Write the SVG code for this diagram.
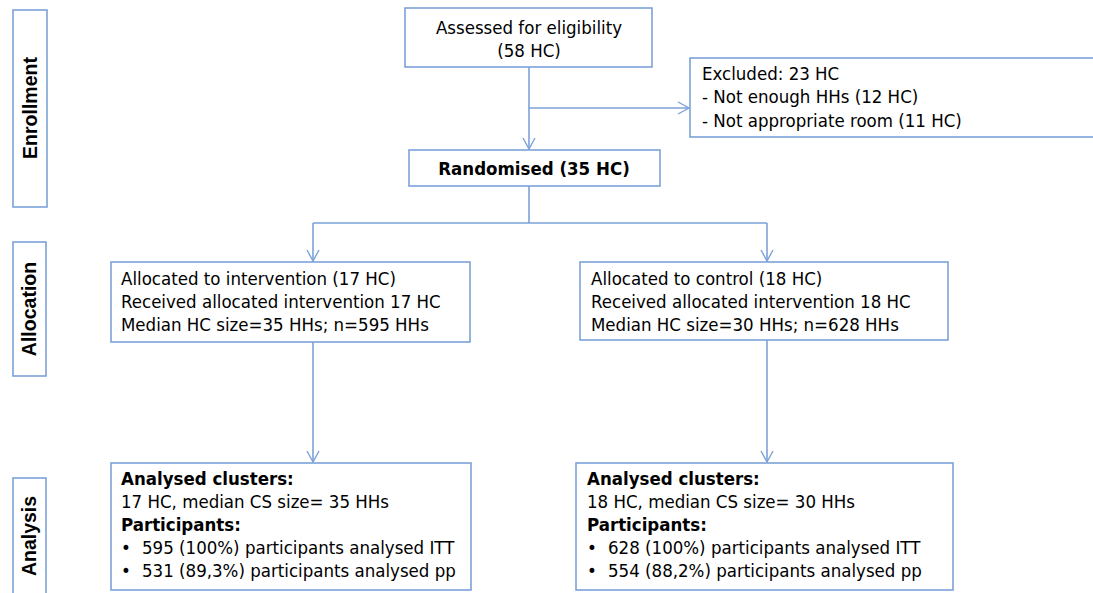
<svg xmlns="http://www.w3.org/2000/svg" width="1093" height="593" viewBox="0 0 1093 593">
<defs>
<style>
.box{fill:#fff;stroke:#7ca2d9;stroke-width:1.6}
.ln{fill:none;stroke:#7ca2d9;stroke-width:1.6}
.t{font-family:"DejaVu Sans Condensed","DejaVu Sans",Verdana,sans-serif;font-stretch:condensed;font-size:18.5px;fill:#000}
.b{font-weight:bold}
.side{font-family:"Liberation Sans",Arial,sans-serif;font-size:19.5px;font-weight:bold;fill:#000}
</style>
<marker id="arr" markerWidth="14" markerHeight="14" refX="12" refY="7" orient="auto" markerUnits="userSpaceOnUse">
<path d="M1,1 L12,7 L1,13" fill="none" stroke="#7ca2d9" stroke-width="1.4"/>
</marker>
</defs>
<rect width="1093" height="593" fill="#fff"/>

<g id="connectors">
<path class="ln" d="M529,67 V149" marker-end="url(#arr)"/>
<path class="ln" d="M529,108 H689" marker-end="url(#arr)"/>
<path class="ln" d="M529,186 V223 M313,223 H767"/>
<path class="ln" d="M313,223 V261" marker-end="url(#arr)"/>
<path class="ln" d="M767,223 V261" marker-end="url(#arr)"/>
<path class="ln" d="M313,342 V462" marker-end="url(#arr)"/>
<path class="ln" d="M767,340 V462" marker-end="url(#arr)"/>
</g>

<g id="label-enrollment">
<rect class="box" x="13" y="10" width="34" height="197"/>
<text class="side" transform="translate(37,108) rotate(-90)" text-anchor="middle">Enrollment</text>
</g>
<g id="label-allocation">
<rect class="box" x="13" y="242" width="33" height="134"/>
<text class="side" transform="translate(36,309) rotate(-90)" text-anchor="middle">Allocation</text>
</g>
<g id="label-analysis">
<rect class="box" x="13" y="478" width="33" height="120"/>
<text class="side" transform="translate(36,536) rotate(-90)" text-anchor="middle">Analysis</text>
</g>

<g id="assessed">
<rect class="box" x="405" y="8" width="247" height="59"/>
<text class="t" x="529" y="34" text-anchor="middle">Assessed for eligibility</text>
<text class="t" x="529" y="57" text-anchor="middle">(58 HC)</text>
</g>

<g id="excluded">
<rect class="box" x="690" y="58" width="410" height="79"/>
<text class="t" x="702" y="80">Excluded: 23 HC</text>
<text class="t" x="702" y="103">- Not enough HHs (12 HC)</text>
<text class="t" x="702" y="127">- Not appropriate room  (11 HC)</text>
</g>

<g id="randomised">
<rect class="box" x="409" y="150" width="251" height="36"/>
<text class="t b" x="534" y="175" text-anchor="middle">Randomised (35 HC)</text>
</g>

<g id="alloc-intervention">
<rect class="box" x="111" y="262" width="359" height="80"/>
<text class="t" x="121" y="285">Allocated to intervention (17 HC)</text>
<text class="t" x="121" y="308">Received allocated intervention 17 HC</text>
<text class="t" x="121" y="331">Median HC size=35 HHs; n=595 HHs</text>
</g>

<g id="alloc-control">
<rect class="box" x="580" y="262" width="368" height="78"/>
<text class="t" x="591" y="285">Allocated to control (18 HC)</text>
<text class="t" x="591" y="308">Received allocated intervention 18 HC</text>
<text class="t" x="591" y="331">Median HC size=30 HHs; n=628 HHs</text>
</g>

<g id="analysis-intervention">
<rect class="box" x="111" y="463" width="360" height="127"/>
<text class="t b" x="121" y="485">Analysed clusters:</text>
<text class="t" x="121" y="508">17 HC, median CS size= 35 HHs</text>
<text class="t b" x="121" y="531">Participants:</text>
<text class="t" x="121" y="554">•</text>
<text class="t" x="142" y="554">595 (100%) participants analysed ITT</text>
<text class="t" x="121" y="577">•</text>
<text class="t" x="142" y="577">531 (89,3%) participants analysed pp</text>
</g>

<g id="analysis-control">
<rect class="box" x="576" y="463" width="377" height="127"/>
<text class="t b" x="587" y="485">Analysed clusters:</text>
<text class="t" x="587" y="508">18 HC, median CS size= 30 HHs</text>
<text class="t b" x="587" y="531">Participants:</text>
<text class="t" x="587" y="554">•</text>
<text class="t" x="608" y="554">628 (100%) participants analysed ITT</text>
<text class="t" x="587" y="577">•</text>
<text class="t" x="608" y="577">554 (88,2%) participants analysed pp</text>
</g>
</svg>
